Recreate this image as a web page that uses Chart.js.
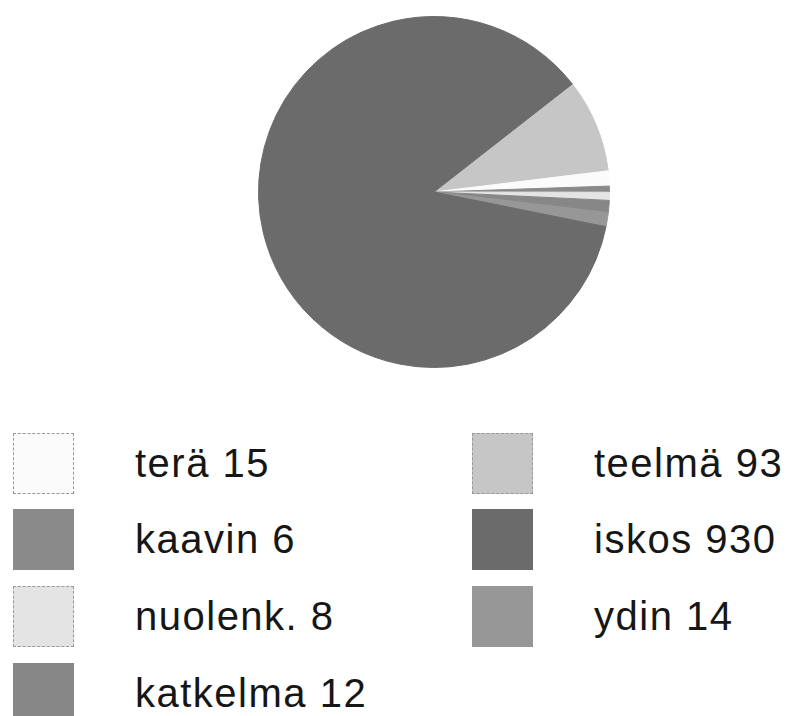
<!DOCTYPE html>
<html>
<head>
<meta charset="utf-8">
<script src="https://cdn.jsdelivr.net/npm/chart.js@4.4.1/dist/chart.umd.min.js"></script>
<style>
  body { margin: 0; background: #fff; width: 787px; height: 716px; overflow: hidden; position: relative; font-family: "Liberation Sans", Arial, sans-serif; }
  #pieWrap { position: absolute; left: 258px; top: 16px; width: 352px; height: 352px; }
  .item { position: absolute; display: flex; align-items: center; height: 62px; }
  .swatch { width: 61px; height: 61px; box-sizing: border-box; }
  .label { font-size: 40px; letter-spacing: 1.5px; color: #161616; margin-left: 61px; }
</style>
</head>
<body>
<div id="pieWrap"><canvas id="pie" width="352" height="352"></canvas></div>
<div id="legend"></div>
<script>
// legend order (two columns)
const labels = ["terä", "kaavin", "nuolenk.", "katkelma", "teelmä", "iskos", "ydin"];
const values = [15, 6, 8, 12, 93, 930, 14];
const colors = ["#fbfbfb", "#8a8a8a", "#e4e4e4", "#878787", "#c6c6c6", "#6b6b6b", "#979797"];
const dashed = [true, false, true, false, true, false, false];
// order the slices are drawn clockwise in the picture
const pieOrder = [4, 0, 1, 2, 3, 6, 5];

const ctx = document.getElementById("pie").getContext("2d");
new Chart(ctx, {
  type: "pie",
  data: {
    labels: pieOrder.map((i) => labels[i]),
    datasets: [
      {
        data: pieOrder.map((i) => values[i]),
        backgroundColor: pieOrder.map((i) => colors[i]),
        borderColor: pieOrder.map((i) => colors[i]),
        borderWidth: 1,
      },
    ],
  },
  options: {
    responsive: false,
    animation: false,
    rotation: 52,
    layout: { padding: 0 },
    plugins: { legend: { display: false }, tooltip: { enabled: false } },
  },
});

// legend: column-wise, 4 rows then 3
const legend = document.getElementById("legend");
labels.forEach((name, i) => {
  const col = i < 4 ? 0 : 1;
  const row = i < 4 ? i : i - 4;
  const item = document.createElement("div");
  item.className = "item";
  item.style.left = (col === 0 ? 13 : 472) + "px";
  item.style.top = (432 + row * 76.7) + "px";
  const sw = document.createElement("div");
  sw.className = "swatch";
  sw.style.background = colors[i];
  if (dashed[i]) sw.style.border = "1px dashed #999";
  const tx = document.createElement("span");
  tx.className = "label";
  tx.textContent = name + " " + values[i];
  item.appendChild(sw);
  item.appendChild(tx);
  legend.appendChild(item);
});
</script>
</body>
</html>
